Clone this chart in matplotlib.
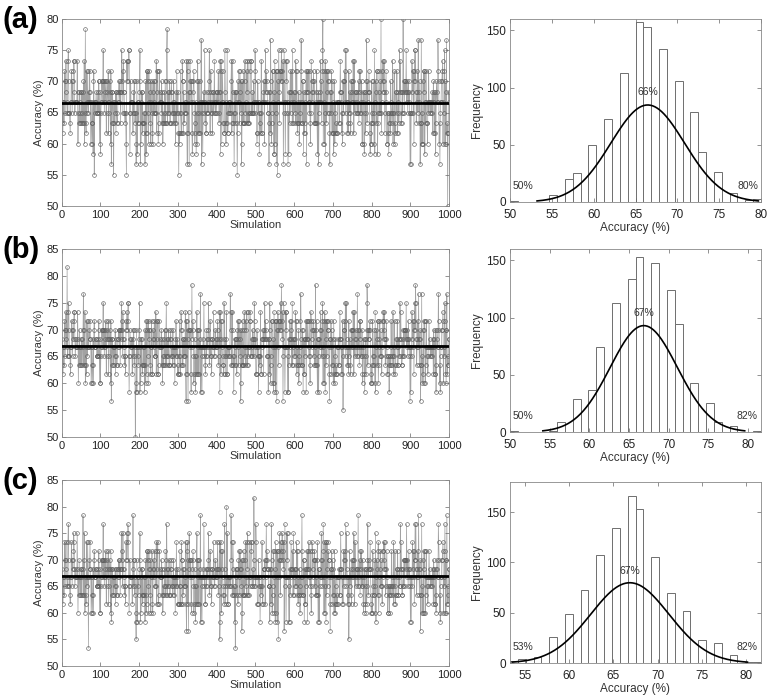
import numpy as np
import matplotlib
matplotlib.use("Agg")
import matplotlib.pyplot as plt

plt.rcParams['font.family'] = ['Liberation Sans', 'DejaVu Sans']

# accuracy levels (test set of 60 -> steps of 1.667 %)
levels_a = [50.00, 55.00, 56.67, 58.33, 60.00, 61.67, 63.33, 65.00, 66.67,
            68.33, 70.00, 71.67, 73.33, 75.00, 76.67, 78.33, 80.00]
counts_a = [1, 6, 20, 25, 50, 73, 113, 157, 153, 134, 106, 79, 44, 26, 8, 2, 3]

levels_b = [50.00, 55.00, 56.67, 58.33, 60.00, 61.67, 63.33, 65.00, 66.67,
            68.33, 70.00, 71.67, 73.33, 75.00, 76.67, 78.33, 81.67]
counts_b = [1, 1, 9, 29, 37, 74, 113, 134, 153, 148, 124, 94, 43, 25, 9, 5, 1]

levels_c = [53.33, 55.00, 56.67, 58.33, 60.00, 61.67, 63.33, 65.00, 66.67,
            68.33, 70.00, 71.67, 73.33, 75.00, 76.67, 78.33, 80.00, 81.67]
counts_c = [2, 4, 6, 26, 49, 73, 107, 134, 166, 153, 105, 70, 52, 23, 20, 8, 1, 1]

# extreme runs: simulation index -> accuracy
pinned_a = {60: 78.33, 83: 55.00, 133: 55.00, 166: 55.00, 271: 78.33, 301: 55.00,
            452: 55.00, 673: 80.00, 823: 80.00, 880: 80.00, 995: 50.00}
pinned_b = {13: 81.67, 189: 50.00, 335: 78.33, 566: 78.33, 654: 78.33,
            725: 55.00, 787: 78.33}
pinned_c = {68: 53.33, 183: 78.33, 191: 55.00, 407: 55.00, 424: 80.00,
            447: 53.33, 495: 81.67, 740: 55.00}

panel_letters = ["(a)", "(b)", "(c)"]
stem_ylims = [(50, 80), (50, 85), (50, 85)]
hist_ylims = [(0, 160), (0, 160), (0, 180)]
MASK = 0xFFFFFFFF


def mix(j):
    # integer hash, only used to fix an order for the runs
    h = (j + 0x9E3779B9) & MASK
    h ^= h >> 16
    h = (h * 0x85EBCA6B) & MASK
    h ^= h >> 13
    h = (h * 0xC2B2AE35) & MASK
    h ^= h >> 16
    return h


def build_series(levels, counts, pinned, n=1000):
    # spread the read-off counts over the runs, keep pinned runs in place
    pool = list(np.repeat(levels, counts))
    for v in pinned.values():
        pool.remove(v)
    order = np.argsort([mix(j) for j in range(len(pool))])
    rest = [pool[j] for j in order]
    out = []
    k = 0
    for i in range(n):
        if i in pinned:
            out.append(pinned[i])
        else:
            out.append(rest[k])
            k += 1
    return np.array(out)


series = [build_series(levels_a, counts_a, pinned_a),
          build_series(levels_b, counts_b, pinned_b),
          build_series(levels_c, counts_c, pinned_c)]

fig = plt.figure(figsize=(7.72, 6.99), dpi=100)
H = 699.0
W = 772.0
stem_boxes = [(19, 206), (249, 437), (480, 666)]
hist_boxes = [(19, 202), (249, 432), (482, 663)]

for i, acc in enumerate(series):
    top, bot = stem_boxes[i]
    ax = fig.add_axes([61.7 / W, 1 - bot / H, 387.5 / W, (bot - top) / H])
    sims = np.arange(1, len(acc) + 1)
    ax.plot(sims, acc, '-', color='#a2a2a2', lw=0.5, zorder=1)
    ax.plot(sims, acc, 'o', ms=2.7, mfc='none', mec='#606060', mew=0.45, zorder=2)
    ax.axhline(acc.mean(), color='black', lw=2, zorder=3)
    ax.set_xlim(0, 1000)
    ax.set_ylim(*stem_ylims[i])
    ax.set_xticks(range(0, 1001, 100))
    ax.set_yticks(range(stem_ylims[i][0], stem_ylims[i][1] + 1, 5))
    ax.set_xlabel("Simulation", fontsize=8, labelpad=0, color='#333333')
    ax.set_ylabel("Accuracy (%)", fontsize=8, labelpad=2, color='#333333')
    ax.tick_params(direction='in', top=True, right=True, labelsize=8,
                   length=3, width=0.5, color='#666666', labelcolor='#222222', pad=2)
    ax.tick_params(axis='x', pad=3)
    for s in ax.spines.values():
        s.set_color('#888888')
        s.set_linewidth(0.6)
    fig.text(3 / W, 1 - (20 + [0, 230, 461][i]) / H, panel_letters[i],
             fontsize=21, fontweight='bold', va='center', ha='left')

    # histogram with normal fit
    top, bot = hist_boxes[i]
    hx = fig.add_axes([510 / W, 1 - bot / H, 251 / W, (bot - top) / H])
    lo, hi = acc.min(), acc.max()
    nbins = 32
    hx.hist(acc, bins=nbins, range=(lo, hi), facecolor='white',
            edgecolor='#6e6e6e', lw=0.7)
    bw = (hi - lo) / nbins
    mu, sig = acc.mean(), acc.std(ddof=1)
    xx = np.linspace(mu - 3 * sig, mu + 3 * sig, 200)
    yy = len(acc) * bw * np.exp(-0.5 * ((xx - mu) / sig) ** 2) / (sig * np.sqrt(2 * np.pi))
    hx.plot(xx, yy, color='black', lw=1.2)
    hx.set_ylim(*hist_ylims[i])
    hx.set_xticks(range(50, 81, 5))
    hx.set_xlim(lo, hi)
    hx.set_yticks([0, 50, 100, 150])
    hx.set_xlabel("Accuracy (%)", fontsize=8.5, labelpad=1, color='#333333')
    hx.set_ylabel("Frequency", fontsize=8.5, labelpad=2, color='#333333')
    hx.tick_params(direction='in', top=True, right=True, labelsize=8.5,
                   length=3, width=0.5, color='#666666', labelcolor='#222222', pad=3)
    hx.tick_params(axis='x', pad=5)
    for s in hx.spines.values():
        s.set_color('#888888')
        s.set_linewidth(0.6)
    peak = yy.max()
    span = hi - lo
    hx.text(lo + 0.012 * span, hist_ylims[i][1] * 0.06, f"{round(lo):.0f}%",
            fontsize=7.5, ha='left', va='bottom', color='#333333')
    hx.text(hi - 0.012 * span, hist_ylims[i][1] * 0.06, f"{round(hi):.0f}%",
            fontsize=7.5, ha='right', va='bottom', color='#333333')
    hx.text(mu, peak + 7, f"{round(mu):.0f}%", fontsize=7.5, ha='center',
            va='bottom', color='#333333')

fig.savefig("out.png", dpi=100)
